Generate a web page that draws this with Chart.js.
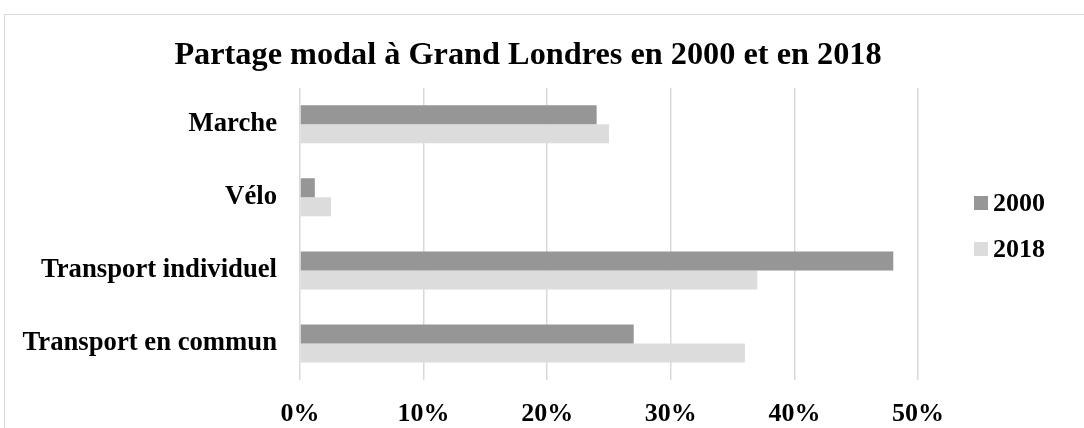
<!DOCTYPE html>
<html lang="fr">
<head>
<meta charset="utf-8">
<title>Partage modal à Grand Londres</title>
<script src="https://cdn.jsdelivr.net/npm/chart.js@4.4.1/dist/chart.umd.min.js"></script>
<style>
    html, body { margin: 0; padding: 0; background: #fff; overflow: hidden; }
    #wrap { position: relative; width: 1084px; height: 428px; }
    #frame {
        position: absolute; left: 4px; top: 14px; width: 1200px; height: 600px;
        border: 1px solid #d9d9d9; box-sizing: border-box;
    }
    #chart { position: absolute; left: 0; top: 0; }
    .legend { position: absolute; left: 974px; top: 180px; font-family: 'Liberation Serif', 'Times New Roman', serif; font-weight: bold; font-size: 26px; color: #000; }
    .legend-item { position: relative; height: 46px; line-height: 46px; padding-left: 19px; }
    .legend-item span { position: absolute; left: 0; top: 16px; width: 14px; height: 14px; }
</style>
</head>
<body>
<div id="wrap">
    <div id="frame"></div>
    <canvas id="chart" width="1084" height="428"></canvas>
    <div class="legend" id="legend"></div>
</div>
<script>
// Modes de transport (du haut vers le bas)
const categories = ['Marche', 'Vélo', 'Transport individuel', 'Transport en commun'];
// Part modale en %
const values2000 = [24, 1.2, 48, 27];
const values2018 = [25, 2.5, 37, 36];
const seriesNames = ['2000', '2018'];
const seriesColors = ['#969696', '#dcdcdc'];
const xTicks = [0, 10, 20, 30, 40, 50];

const serif = "'Liberation Serif', 'Times New Roman', serif";
Chart.defaults.font.family = serif;
Chart.defaults.color = '#000';

const ctx = document.getElementById('chart').getContext('2d');

const chart = new Chart(ctx, {
    type: 'bar',
    data: {
        labels: categories,
        datasets: [
            { label: seriesNames[0], data: values2000, backgroundColor: seriesColors[0] },
            { label: seriesNames[1], data: values2018, backgroundColor: seriesColors[1] }
        ]
    },
    options: {
        indexAxis: 'y',
        responsive: false,
        animation: false,
        categoryPercentage: 0.52,
        barPercentage: 1,
        layout: { padding: { left: 20, right: 48, top: 14, bottom: 0 } },
        plugins: {
            legend: { display: false },
            tooltip: { enabled: false },
            title: {
                display: true,
                text: 'Partage modal à Grand Londres en 2000 et en 2018',
                font: { size: 32.3, weight: 'bold' },
                color: '#000',
                padding: { top: 22, bottom: 13 }
            }
        },
        scales: {
            x: {
                min: xTicks[0],
                max: xTicks[xTicks.length - 1],
                afterBuildTicks: scale => { scale.ticks = xTicks.map(v => ({ value: v })); },
                afterFit: scale => { scale.height = 48; },
                ticks: {
                    font: { size: 26, weight: 'bold' },
                    padding: 19,
                    callback: v => v + '%'
                },
                grid: { color: '#d9d9d9', lineWidth: 1.5, drawTicks: false },
                border: { display: false }
            },
            y: {
                afterFit: scale => { scale.width = 280; },
                ticks: { font: { size: 26.7, weight: 'bold' }, padding: 23 },
                grid: { display: false, drawTicks: false },
                border: { display: false }
            },
            // keeps room on the right for the legend
            legendSpace: {
                type: 'category',
                axis: 'y',
                position: 'right',
                ticks: { display: false },
                grid: { display: false, drawTicks: false },
                border: { display: false },
                afterFit: scale => { scale.width = 118; }
            }
        }
    }
});

// HTML legend built from the datasets
const legendEl = document.getElementById('legend');
chart.data.datasets.forEach(ds => {
    const item = document.createElement('div');
    item.className = 'legend-item';
    item.innerHTML = `<span style="background:${ds.backgroundColor}"></span>${ds.label}`;
    legendEl.appendChild(item);
});
</script>
</body>
</html>
